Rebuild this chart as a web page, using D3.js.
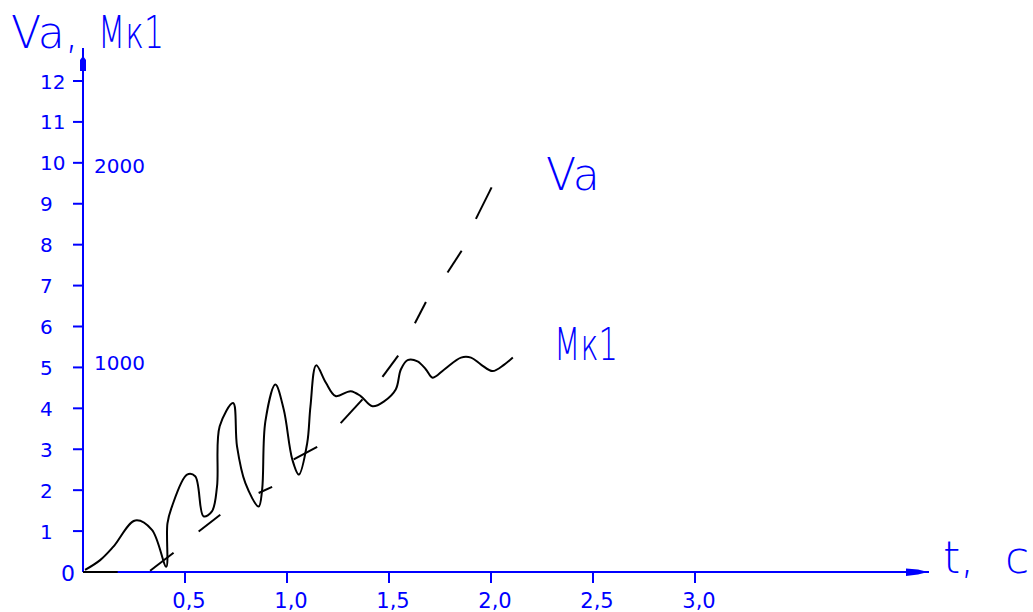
<!DOCTYPE html>
<html>
<head>
<meta charset="utf-8">
<script src="https://cdn.jsdelivr.net/npm/d3@7"></script>
<style>
  body { margin: 0; background: #fff; }
  svg { display: block; }
  text { font-family: "DejaVu Sans", sans-serif; fill: #0000ff; }
</style>
</head>
<body>
<svg width="1033" height="612"></svg>
<script>
// y ticks (left axis) and x ticks
var yTicks = [1, 2, 3, 4, 5, 6, 7, 8, 9, 10, 11, 12];
var xTicks = [0.5, 1.0, 1.5, 2.0, 2.5, 3.0];
var xTickLabels = ["0,5", "1,0", "1,5", "2,0", "2,5", "3,0"];

// second scale marks written next to the axis
var extraLabels = ["2000", "1000"];
var extraLabelAt = [10, 5];

// Mк1 curve, t in seconds
var mkT = [0.01, 0.084, 0.149, 0.256, 0.338, 0.408, 0.414, 0.436, 0.51, 0.55, 0.591, 0.632,
           0.657, 0.67, 0.736, 0.755, 0.796, 0.861, 0.878, 0.894, 0.943, 0.984, 1.026, 1.058,
           1.099, 1.115, 1.143, 1.19, 1.238, 1.312, 1.361, 1.419, 1.476, 1.533, 1.558, 1.591,
           1.64, 1.681, 1.714, 1.771, 1.853, 1.902, 1.951, 2.008, 2.065, 2.107];
var mkV = [0.05, 0.29, 0.62, 1.26, 1.03, 0.13, 1.19, 1.60, 2.38, 2.34, 1.36, 1.48,
           2.09, 3.56, 4.13, 3.07, 2.17, 1.60, 2.01, 3.68, 4.58, 3.97, 2.75, 2.38,
           3.15, 4.05, 5.05, 4.63, 4.30, 4.42, 4.30, 4.05, 4.17, 4.46, 4.95, 5.18,
           5.15, 4.95, 4.75, 4.95, 5.24, 5.24, 5.07, 4.91, 5.07, 5.24];

// Va curve, drawn as dashes: each dash from start to end point
var vaStartT = [0, 0.329, 0.567, 0.861, 1.033, 1.263, 1.468, 1.627, 1.787, 1.926];
var vaStartV = [0, 0.03, 0.99, 1.93, 2.75, 3.64, 4.77, 6.08, 7.32, 8.63];
var vaEndT   = [0.17, 0.444, 0.673, 0.927, 1.148, 1.37, 1.545, 1.681, 1.856, 2.003];
var vaEndV   = [0, 0.47, 1.40, 2.08, 3.06, 4.22, 5.29, 6.60, 7.85, 9.40];

var blue = "#0000ff";
var svg = d3.select("svg");

var x = d3.scaleLinear().domain([0, 3]).range([83, 695]);
var y = d3.scaleLinear().domain([0, 12]).range([572, 81]);

// axes
var axes = svg.append("g").attr("id", "axes");
axes.append("line")
  .attr("x1", x(0)).attr("y1", y(0)).attr("x2", x(0)).attr("y2", 48)
  .attr("stroke", blue).attr("stroke-width", 2);
axes.append("line")
  .attr("x1", x(0)).attr("y1", y(0)).attr("x2", 929).attr("y2", y(0))
  .attr("stroke", blue).attr("stroke-width", 2);
// arrow heads
axes.append("path")
  .attr("d", "M80,71 L86,71 L86,60 L83,56 L80,60 Z")
  .attr("fill", blue);
axes.append("path")
  .attr("d", "M906,568.5 L918,569.5 L924,571 L924,573 L918,574.5 L906,576 Z")
  .attr("fill", blue);

// y ticks
axes.selectAll("line.ytick")
  .data(yTicks)
  .enter().append("line")
  .attr("class", "ytick")
  .attr("x1", 73).attr("x2", x(0))
  .attr("y1", function(d) { return y(d); })
  .attr("y2", function(d) { return y(d); })
  .attr("stroke", blue).attr("stroke-width", 2);
axes.selectAll("text.ylab")
  .data(yTicks)
  .enter().append("text")
  .attr("class", "ylab")
  .attr("x", 40)
  .attr("y", function(d) { return y(d) + 7.5; })
  .style("font-size", "20px")
  .text(function(d) { return d; });
axes.append("text")
  .attr("x", 61).attr("y", y(0) + 9)
  .style("font-size", "22px")
  .text("0");

// x ticks
axes.selectAll("line.xtick")
  .data(xTicks)
  .enter().append("line")
  .attr("class", "xtick")
  .attr("x1", function(d) { return x(d); })
  .attr("x2", function(d) { return x(d); })
  .attr("y1", y(0)).attr("y2", y(0) + 11)
  .attr("stroke", blue).attr("stroke-width", 2);
axes.selectAll("text.xlab")
  .data(xTicks)
  .enter().append("text")
  .attr("class", "xlab")
  .attr("x", function(d) { return x(d) + 4; })
  .attr("y", 608)
  .attr("text-anchor", "middle")
  .style("font-size", "21px")
  .text(function(d, i) { return xTickLabels[i]; });

// the 2000 / 1000 marks
axes.selectAll("text.extra")
  .data(extraLabels)
  .enter().append("text")
  .attr("class", "extra")
  .attr("x", 94)
  .attr("y", function(d, i) { return y(extraLabelAt[i]) + (i == 0 ? 10 : 3); })
  .style("font-size", "20px")
  .text(function(d) { return d; });

// axis titles
var big = "44px";
function title(txt, tx, ty, w) {
  var t = svg.append("text").attr("x", tx).attr("y", ty)
    .style("font-size", big).style("font-weight", 200).text(txt);
  if (w) t.attr("textLength", w).attr("lengthAdjust", "spacingAndGlyphs");
  return t;
}
title("Va,", 11, 48);
title("Мк1", 98, 48, 66);
title("t,", 943, 573);
title("c", 1005, 573);

// series labels
title("Va", 546, 190);
title("Мк1", 554, 360, 64);

// Mк1 curve
var mkData = mkT.map(function(t, i) { return [t, mkV[i]]; });
var line = d3.line()
  .x(function(d) { return x(d[0]); })
  .y(function(d) { return y(d[1]); })
  .curve(d3.curveCatmullRom.alpha(0.5));
svg.append("path")
  .datum(mkData)
  .attr("d", line)
  .attr("fill", "none")
  .attr("stroke", "#000")
  .attr("stroke-width", 2);

// Va dashes
svg.selectAll("line.va")
  .data(vaStartT)
  .enter().append("line")
  .attr("class", "va")
  .attr("x1", function(d) { return x(d); })
  .attr("y1", function(d, i) { return y(vaStartV[i]); })
  .attr("x2", function(d, i) { return x(vaEndT[i]); })
  .attr("y2", function(d, i) { return y(vaEndV[i]); })
  .attr("stroke", "#000")
  .attr("stroke-width", 2);
</script>
</body>
</html>
